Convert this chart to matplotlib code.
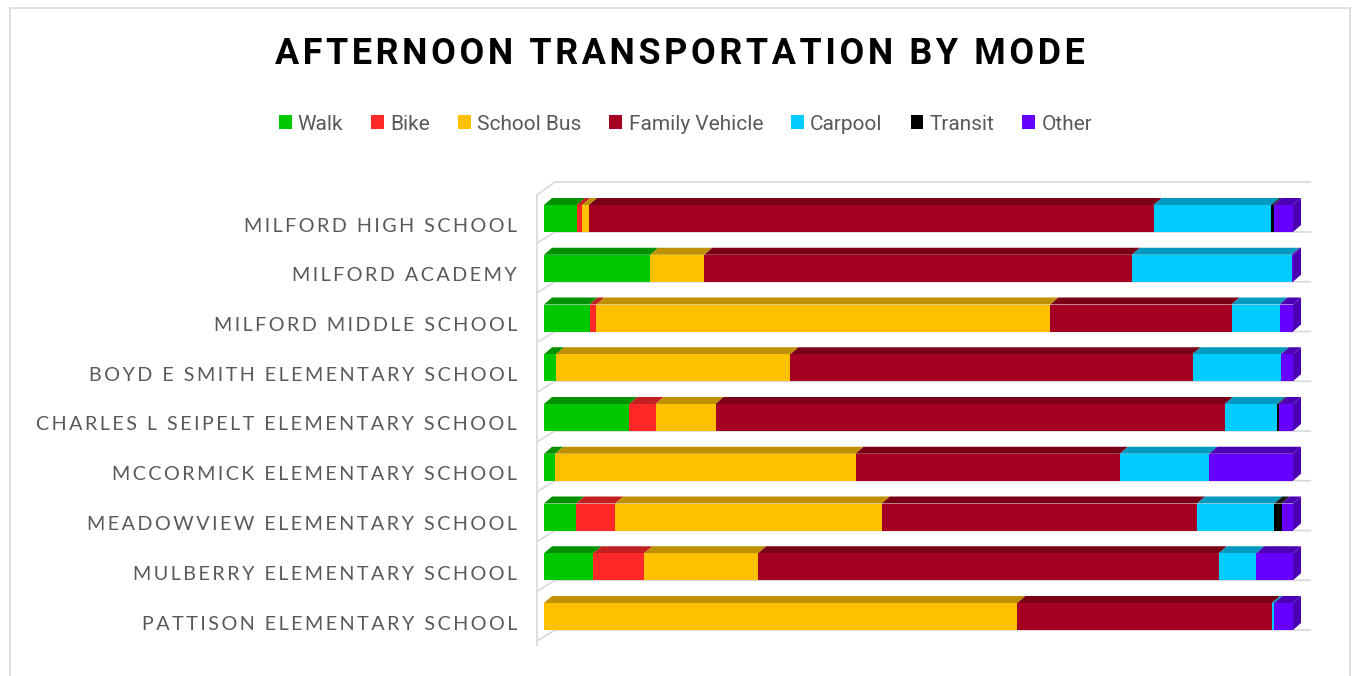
import matplotlib
matplotlib.use("Agg")
import matplotlib.pyplot as plt
from matplotlib.patches import Polygon, Rectangle, Patch
import numpy as np

# ---------------- data ----------------
schools = [
    "MILFORD HIGH SCHOOL",
    "MILFORD ACADEMY",
    "MILFORD MIDDLE SCHOOL",
    "BOYD E SMITH ELEMENTARY SCHOOL",
    "CHARLES L SEIPELT ELEMENTARY SCHOOL",
    "MCCORMICK ELEMENTARY SCHOOL",
    "MEADOWVIEW ELEMENTARY SCHOOL",
    "MULBERRY ELEMENTARY SCHOOL",
    "PATTISON ELEMENTARY SCHOOL",
]
modes = ["Walk", "Bike", "School Bus", "Family Vehicle", "Carpool", "Transit", "Other"]

walk      = [4.4, 14.2, 6.1, 1.6, 11.4, 1.5, 4.3, 6.6, 0.0]
bike      = [0.7, 0.0, 0.9, 0.0, 3.5, 0.0, 5.2, 6.8, 0.0]
school_bus = [0.9, 7.2, 60.6, 31.3, 8.0, 40.1, 35.6, 15.2, 63.2]
family    = [75.4, 57.1, 24.2, 53.7, 68.0, 35.3, 42.1, 61.5, 34.0]
carpool   = [15.7, 21.3, 6.4, 11.8, 7.0, 11.9, 10.3, 5.0, 0.3]
transit   = [0.3, 0.0, 0.0, 0.0, 0.2, 0.0, 1.0, 0.0, 0.0]
other     = [2.6, 0.2, 1.8, 1.6, 1.9, 11.2, 1.5, 4.9, 2.5]

front_colors = ["#00C800", "#FF2828", "#FFC000", "#A50021", "#00CCFF", "#000000", "#6600FF"]
top_colors   = ["#009000", "#C02020", "#BF9000", "#7A0018", "#0099BF", "#1A1A1A", "#4B00B4"]

title = "AFTERNOON TRANSPORTATION BY MODE"

# ---------------- figure ----------------
W, H = 1353, 676
fig = plt.figure(figsize=(W / 100, H / 100), dpi=100)
fig.patch.set_facecolor("white")
renderer = fig.canvas.get_renderer()

# outer chart border
fig.add_artist(Rectangle((10 / W, -0.01), (1350 - 10) / W, 1 - 8 / H + 0.01,
                         transform=fig.transFigure, fill=False,
                         edgecolor="#D9D9D9", lw=1.2))

# axes: x 0..100 maps to 544..1293 px ; rows at 218.5 + 49.75*k px
x0px, x1px = 544, 1293
ytop_px, ybot_px = 180, 650
row0, rowsp = 218.5, 49.75
ax = fig.add_axes([x0px / W, 1 - ybot_px / H, (x1px - x0px) / W, (ybot_px - ytop_px) / H])
ax.set_xlim(0, 100)
ax.set_ylim((ybot_px - row0) / rowsp, (ytop_px - row0) / rowsp)
ax.axis("off")

pxx = 100 / (x1px - x0px)   # data units per px (x)
pxy = 1 / rowsp             # data units per px (y)

n = len(schools)
ypos = np.arange(n)
h = 27 * pxy
dx = 8 * pxx
dy = 7 * pxy

series = [walk, bike, school_bus, family, carpool, transit, other]
data = np.array(series, dtype=float)
data = data / data.sum(axis=0) * 100

# ----- back wall / floor lines -----
wall_x = -7 * pxx
gcol = "#D9D9D9"
ax.plot([wall_x, wall_x], [(195 - row0) * pxy, (645 - row0) * pxy], color=gcol, lw=1.2,
        clip_on=False, zorder=0)
top_y = (182 - row0) * pxy
ax.plot([wall_x, 11 * pxx, 102.3], [(195 - row0) * pxy, top_y, top_y], color=gcol, lw=1.2,
        clip_on=False, zorder=0)
for k in range(n):
    yb = k + h / 2
    ax.plot([wall_x, 11 * pxx, 102.3], [yb + 11 * pxy, yb, yb], color=gcol, lw=1.2,
            clip_on=False, zorder=0)

# ----- bars -----
left = np.zeros(n)
for i, vals in enumerate(data):
    ax.barh(ypos, vals, left=left, height=h, color=front_colors[i], edgecolor="none",
            zorder=3, label=modes[i])
    for k in range(n):
        if vals[k] <= 0:
            continue
        a, b = left[k], left[k] + vals[k]
        yt = k - h / 2
        ax.add_patch(Polygon([(a, yt), (b, yt), (b + dx, yt - dy), (a + dx, yt - dy)],
                             closed=True, facecolor=top_colors[i], edgecolor="none",
                             zorder=2, clip_on=False))
    left = left + vals

# right side face of the last non-zero segment
for k in range(n):
    last = max(i for i in range(len(series)) if data[i, k] > 0)
    yt, yb = k - h / 2, k + h / 2
    ax.add_patch(Polygon([(100, yt), (100 + dx, yt - dy), (100 + dx, yb - dy), (100, yb)],
                         closed=True, facecolor=top_colors[last], edgecolor="none",
                         zorder=2, clip_on=False))

# ----- letter tracking helpers -----
SPACERS = ["", "\u200a", "\u2006", "\u2009", "\u2005", "\u200a\u2009", "\u2009\u2009",
           "\u2009\u2005", "\u2005\u2005"]


def track(s, sp):
    return (sp + " " + sp).join(sp.join(list(w)) for w in s.split(" "))


def text_width(s, **kw):
    t = fig.text(0, 0, s, **kw)
    wpx = t.get_window_extent(renderer).width
    t.remove()
    return wpx


def fit_track(s, target_px, fontsize, **kw):
    """pick the spacer whose required font size is closest to `fontsize`,
    then fine-tune the size so that the text spans target_px."""
    best = None
    for sp in SPACERS:
        w = text_width(track(s, sp), fontsize=fontsize, **kw)
        fs = fontsize * target_px / w
        if best is None or abs(fs - fontsize) < abs(best[1] - fontsize):
            best = (sp, fs)
    sp, fs = best
    for _ in range(3):
        w = text_width(track(s, sp), fontsize=fs, **kw)
        fs = fs * target_px / w
    return sp, fs


# ----- category labels -----
lab_kw = dict(color="#595959", family=["Lato", "DejaVu Sans"])
lab_sp, lab_fs = fit_track(schools[4], 480, 14, **lab_kw)
for k, s in enumerate(schools):
    ax.text(-27 * pxx, k + 7.5 * pxy, track(s, lab_sp), ha="right", va="center",
            fontsize=lab_fs, clip_on=False, **lab_kw)

# ----- title -----
tit_kw = dict(fontweight="bold", color="black", family=["Roboto", "DejaVu Sans"])
tit_sp, tit_fs = fit_track(title, 811, 27, **tit_kw)
fig.text(679.5 / W, 1 - 54.5 / H, track(title, tit_sp), ha="center", va="center",
         fontsize=tit_fs, **tit_kw)

# ----- legend -----
handles = [Patch(facecolor=c, edgecolor="none") for c in front_colors]
leg = fig.legend(handles, modes, loc="center", bbox_to_anchor=(685.5 / W, 1 - 124 / H),
                 ncol=7, frameon=False, handlelength=0.62, handleheight=0.62,
                 handletextpad=0.3, columnspacing=1.34,
                 prop={"family": ["Roboto", "DejaVu Sans"], "size": 15})
for t in leg.get_texts():
    t.set_color("#595959")

fig.savefig("out.png", dpi=100, facecolor="white")
